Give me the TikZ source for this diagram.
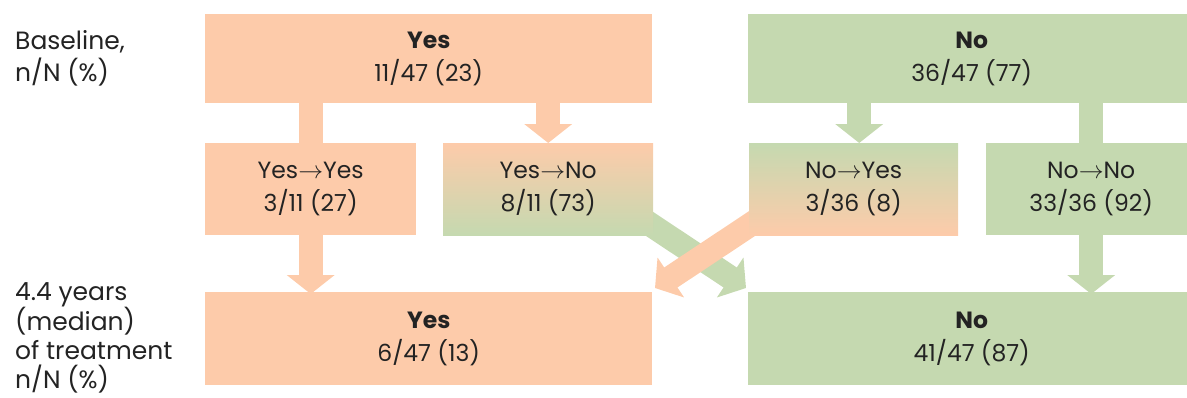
\documentclass[tikz,border=0pt]{standalone}
\usepackage{fontspec}
\setmainfont{Poppins}
\usetikzlibrary{arrows.meta}
\definecolor{peach}{RGB}{253,203,170}
\definecolor{sage}{RGB}{197,217,176}
\definecolor{ink}{RGB}{35,35,35}
\pgfdeclarelayer{bg}
\pgfsetlayers{bg,main}
\begin{document}
\begin{tikzpicture}[x=1pt,y=-1pt,
  box/.style={rectangle, inner sep=0pt, anchor=north west, minimum height=92pt,
    align=center, text=ink, font=\fontsize{23.5}{33}\selectfont},
  orbox/.style={box, fill=peach},
  grbox/.style={box, fill=sage},
  o2g/.style={box, top color=peach, bottom color=sage},
  g2o/.style={box, top color=sage, bottom color=peach},
  lab/.style={anchor=north west, inner sep=0pt, align=left, text=ink,
    font=\fontsize{25}{32}\selectfont},
  band/.style={line width=24pt},
  arr/.style={line width=24pt, -{Triangle[width=47pt,length=19pt]}}]
\path[use as bounding box] (0,0) rectangle (1187,397);
\clip (0,0) rectangle (1187,397);
% top row
\node[orbox, minimum width=447pt, minimum height=89pt] (ty) at (205,14)
  {\bfseries Yes\\11/47 (23)};
\node[grbox, minimum width=447pt, minimum height=89pt] (tn) at (748,14)
  {\bfseries No\\36/47 (77)};
% middle row
\node[orbox, minimum width=211pt] (yy) at (205,143) {Yes$\to$Yes\\3/11 (27)};
\node[o2g, minimum width=210pt] (yn) at (443,143) {Yes$\to$No\\8/11 (73)};
\node[g2o, minimum width=209pt] (ny) at (749,143) {No$\to$Yes\\3/36 (8)};
\node[grbox, minimum width=210pt] (nn) at (986,143) {No$\to$No\\33/36 (92)};
% bottom row
\node[orbox, minimum width=447pt, minimum height=93pt] (by) at (205,292)
  {\bfseries Yes\\6/47 (13)};
\node[grbox, minimum width=447pt, minimum height=93pt] (bn) at (748,292)
  {\bfseries No\\41/47 (87)};
% labels
\node[lab] (lb) at (15,30) {Baseline,\\n/N (\%)};
\node[lab, font=\fontsize{25}{29}\selectfont] (lt) at (15,282)
  {4.4 years\\(median)\\of treatment\\n/N (\%)};
% connectors
\coordinate (gS) at (603,193);
\coordinate (gT) at (746,288);
\coordinate (oS) at (798,193);
\coordinate (oT) at (655,288);
\begin{pgfonlayer}{bg}
\draw[band, peach] (ty.south -| yy.north) -- (yy.north);
\draw[arr, peach] (ty.south -| yn.north) -- (yn.north);
\draw[arr, sage] ([xshift=5.5pt]tn.south -| ny.north) -- ([xshift=5.5pt]ny.north);
\draw[band, sage] (tn.south -| nn.north) -- (nn.north);
\draw[arr, peach] (yy.south) -- ([yshift=-2pt]by.north -| yy.south);
\draw[arr, sage] (nn.south) -- ([yshift=-2pt]bn.north -| nn.south);
\draw[arr, sage] (gS) -- (gT);
\draw[arr, peach] (oS) -- (oT);
\end{pgfonlayer}
\end{tikzpicture}
\end{document}
